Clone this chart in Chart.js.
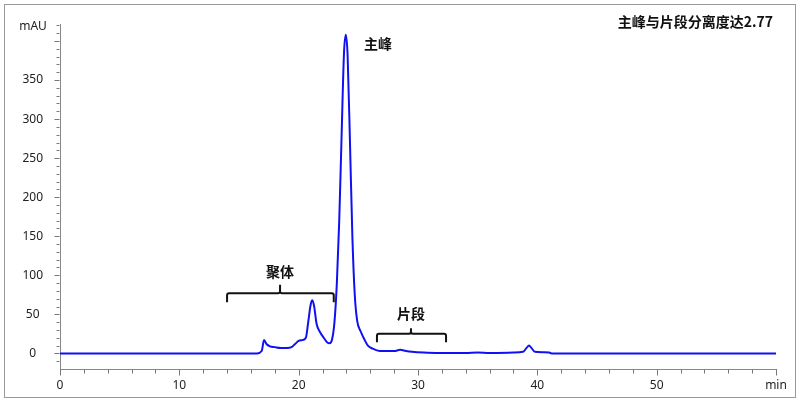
<!DOCTYPE html>
<html>
<head>
<meta charset="utf-8">
<script src="https://cdn.jsdelivr.net/npm/chart.js@4"></script>
<style>
  body { margin: 0; background: #fff; }
</style>
</head>
<body>
<canvas id="myChart" width="800" height="403"></canvas>
<script>
// chromatogram (min, mAU)
var times = [0, 16.5, 16.9, 17.1, 17.3, 17.6, 18.0, 18.5, 19.0, 19.4, 19.7, 20.0, 20.3, 20.6, 20.8, 21.0, 21.15, 21.3, 21.5, 21.8, 22.1, 22.4, 22.6, 22.8, 23.0, 23.2, 23.4, 23.6, 23.8, 23.95, 24.1, 24.3, 24.5, 24.7, 24.9, 25.2, 25.5, 25.8, 26.2, 26.8, 27.5, 28.0, 28.5, 29.0, 29.5, 30.5, 31.5, 34, 35, 36, 38, 38.8, 39.1, 39.3, 39.5, 39.8, 40.5, 41, 41.2, 60];
var mau = [0, 0, 3, 17, 12, 9, 8, 7, 7, 8, 12, 16, 17, 20, 40, 62, 68, 60, 38, 27, 20, 14, 13, 18, 40, 90, 170, 280, 385, 408, 382, 270, 150, 75, 42, 28, 18, 10, 6, 3, 3, 3, 4.5, 3, 2, 1, 0.5, 0.5, 1, 0.5, 1, 2, 7, 10, 7, 2, 1.5, 1, 0, 0];

var xTicks = [0, 10, 20, 30, 40, 50, 60];
var yTicks = [0, 50, 100, 150, 200, 250, 300, 350, 400];

var title = "主峰与片段分离度达2.77";
// labels: [text, x(min), y(mAU)]
var peakLabels = [["主峰", 26.65, 396], ["聚体", 18.44, 105], ["片段", 29.41, 51]];
// brackets: [xStart, xEnd, xMid, lineY, endY, midTopY]
var brackets = [[14.0, 22.94, 18.44, 77, 65.5, 88], [26.56, 32.35, 29.41, 25.2, 14.4, 32.3]];

var font = "'Noto Sans', 'Noto Sans CJK SC', sans-serif";

var extras = {
  id: 'extras',
  afterDraw: function(chart) {
    var ctx = chart.ctx, xs = chart.scales.x, ys = chart.scales.y;
    ctx.save();
    // frame
    ctx.strokeStyle = '#999';
    ctx.lineWidth = 1;
    ctx.strokeRect(4.5, 4.5, 791, 393);

    // tick marks
    ctx.strokeStyle = '#777';
    ctx.beginPath();
    var xb = Math.round(xs.top) + 0.5;
    for (var t = 0; t <= 60; t += 2) {
      var px = Math.round(xs.getPixelForValue(t)) + 0.5;
      ctx.moveTo(px, xb);
      ctx.lineTo(px, xb + (t % 10 === 0 ? 6 : 4));
    }
    var yl = Math.round(ys.right) - 0.5;
    for (var v = -10; v <= 420; v += 10) {
      var py = Math.round(ys.getPixelForValue(v)) + 0.5;
      ctx.moveTo(yl, py);
      ctx.lineTo(yl - (v % 50 === 0 ? 5 : 3), py);
    }
    ctx.stroke();

    // mAU
    ctx.fillStyle = '#222';
    ctx.font = "12px " + font;
    ctx.textAlign = 'center';
    ctx.textBaseline = 'middle';
    ctx.fillText('mAU', 33, 27);

    // title
    ctx.font = "bold 14px 'Noto Sans CJK SC', sans-serif";
    ctx.textAlign = 'right';
    ctx.fillStyle = '#111';
    ctx.fillText(title, 773, 22);

    // peak labels
    ctx.textAlign = 'center';
    peakLabels.forEach(function(l) {
      ctx.fillText(l[0], xs.getPixelForValue(l[1]), ys.getPixelForValue(l[2]));
    });

    // brackets
    ctx.strokeStyle = '#111';
    ctx.lineWidth = 2;
    brackets.forEach(function(b) {
      var x0 = xs.getPixelForValue(b[0]), x1 = xs.getPixelForValue(b[1]), xm = xs.getPixelForValue(b[2]);
      var yLine = ys.getPixelForValue(b[3]), yEnd = ys.getPixelForValue(b[4]), yTop = ys.getPixelForValue(b[5]);
      ctx.beginPath();
      ctx.moveTo(x0, yEnd);
      ctx.lineTo(x0, yLine + 2);
      ctx.quadraticCurveTo(x0, yLine, x0 + 2, yLine);
      ctx.lineTo(xm - 2, yLine);
      ctx.quadraticCurveTo(xm, yLine, xm, yLine - 2);
      ctx.lineTo(xm, yTop);
      ctx.moveTo(xm, yLine - 2);
      ctx.quadraticCurveTo(xm, yLine, xm + 2, yLine);
      ctx.lineTo(x1 - 2, yLine);
      ctx.quadraticCurveTo(x1, yLine, x1, yLine + 2);
      ctx.lineTo(x1, yEnd);
      ctx.stroke();
    });
    ctx.restore();
  }
};

new Chart("myChart", {
  type: "line",
  data: {
    datasets: [{
      data: times.map(function(t, i) { return {x: t, y: mau[i]}; }),
      borderColor: "#1010f0",
      borderWidth: 2,
      pointRadius: 0,
      cubicInterpolationMode: "monotone",
      fill: false
    }]
  },
  options: {
    responsive: false,
    animation: false,
    layout: {padding: {left: 0, right: 24, top: 23, bottom: 0}},
    plugins: {legend: {display: false}, tooltip: {enabled: false}},
    scales: {
      x: {
        type: "linear",
        min: 0,
        max: 60,
        afterBuildTicks: function(s) { s.ticks = xTicks.map(function(v) { return {value: v}; }); },
        afterFit: function(s) { s.height = 34; },
        grid: {drawOnChartArea: false, drawTicks: false},
        border: {display: true, color: "#888", width: 1},
        ticks: {
          padding: 9,
          maxRotation: 0,
          color: "#222",
          font: {size: 12, family: font},
          callback: function(v) { return v === 60 ? "min" : v; }
        }
      },
      y: {
        min: -20,
        max: 421.5,
        afterBuildTicks: function(s) { s.ticks = yTicks.map(function(v) { return {value: v}; }); },
        afterFit: function(s) { s.width = 60; },
        grid: {drawOnChartArea: false, drawTicks: false},
        border: {display: true, color: "#888", width: 1},
        ticks: {
          padding: 17,
          crossAlign: "center",
          color: "#222",
          font: {size: 12, family: font},
          callback: function(v) { return v === 400 ? "" : v; }
        }
      }
    }
  },
  plugins: [extras]
});
</script>
</body>
</html>
